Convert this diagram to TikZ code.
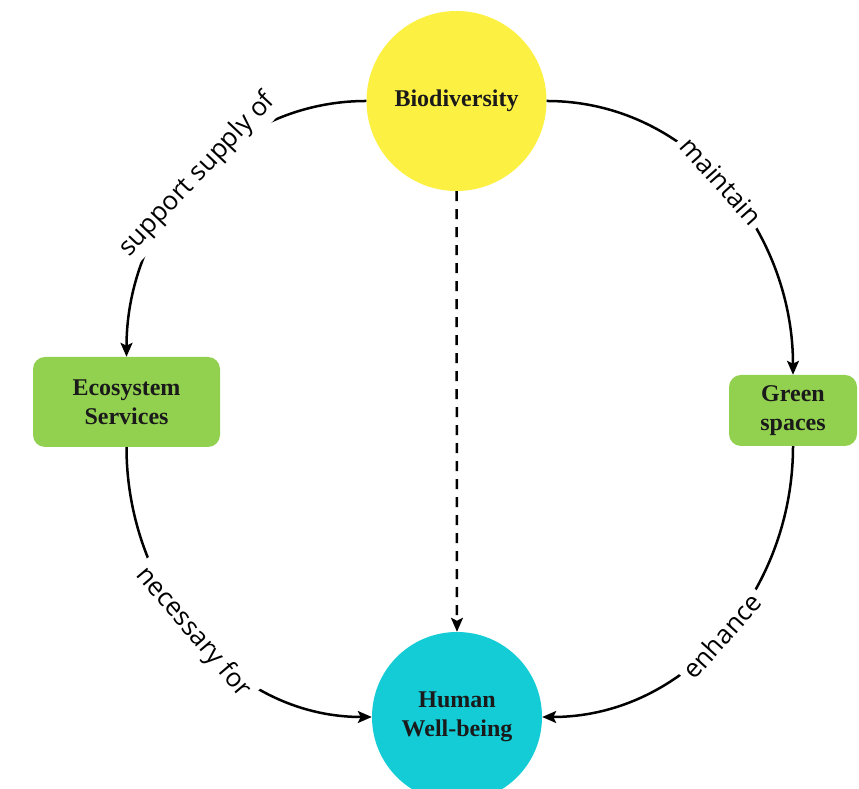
\documentclass[tikz,border=0pt]{standalone}
\usepackage{fontspec}
\setmainfont{Liberation Serif}
\newfontfamily\labelfont{Open Sans}
\usetikzlibrary{arrows.meta}

\definecolor{bioyellow}{HTML}{FCF143}
\definecolor{humancyan}{HTML}{14CCD6}
\definecolor{servgreen}{HTML}{92D050}
\definecolor{inkdark}{HTML}{1A1A1A}

\tikzset{
  concept/.style={text=inkdark, font=\fontsize{24}{29}\selectfont\bfseries, align=center},
  hub/.style={concept, circle, inner sep=0pt},
  tile/.style={concept, rectangle, rounded corners=12pt, inner sep=0pt},
  link/.style={line width=2.5pt, black, -{Stealth[length=14pt,width=12pt,inset=3pt]}},
  linklabel/.style={sloped, fill=white, inner sep=5pt, text=black,
    font=\labelfont\fontsize{26}{30}\selectfont},
}

\begin{document}
\begin{tikzpicture}[x=1pt, y=1pt]
  \clip (0,0) rectangle (859,789);
  \fill[white] (0,0) rectangle (859,789);

  % concept nodes
  \node[hub, fill=bioyellow, minimum size=180pt] (bio) at (456.5,688) {Biodiversity};
  \node[hub, fill=humancyan, minimum size=170pt] (hum) at (457,72) {Human\\Well-being};
  \node[tile, fill=servgreen, minimum width=187pt, minimum height=90pt] (eco) at (126.5,387) {Ecosystem\\Services};
  \node[tile, fill=servgreen, minimum width=128pt, minimum height=71pt] (green) at (793,378.5) {Green\\spaces};

  % relations around the cycle
  \draw[link] (bio.west) to[out=180, in=90]
    node[linklabel, pos=0.49] {support supply of} (eco.north);
  \draw[link] (bio.east) to[out=0, in=90]
    node[linklabel, pos=0.49] {maintain} (green.north);
  \draw[link] (eco.south) to[out=270, in=180]
    node[linklabel, pos=0.49] {necessary for} (hum.west);
  \draw[link] (green.south) to[out=270, in=0]
    node[linklabel, pos=0.5] {enhance} (hum.east);

  % direct influence
  \draw[link, dash pattern=on 10pt off 8pt] (bio.south) -- (hum.north);
\end{tikzpicture}
\end{document}
